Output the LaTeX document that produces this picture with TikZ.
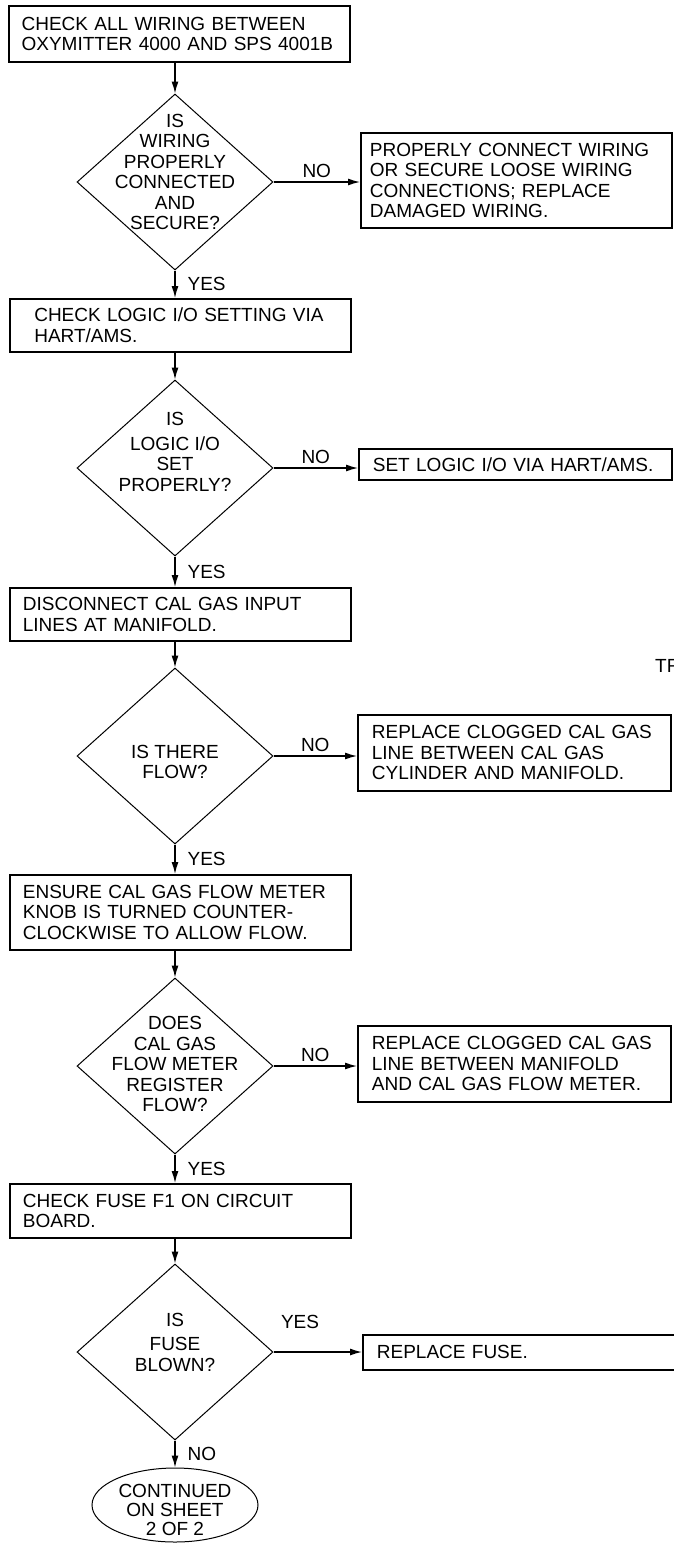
\documentclass[tikz,border=0pt]{standalone}
\usepackage{fontspec}
\setmainfont{Liberation Sans}
\usetikzlibrary{shapes.geometric, arrows.meta}

\begin{document}
\begin{tikzpicture}[x=1pt, y=-1pt, >={Latex[length=12pt, width=7pt]},
    font=\fontsize{19}{20.5}\selectfont,
    every node/.style={inner sep=0pt},
    stepbox/.style={draw, line width=1.8pt, anchor=north west, align=left, inner xsep=13pt, text width=315pt},
    sidebox/.style={draw, line width=1.8pt, anchor=north west, align=left, inner xsep=14pt, text width=285pt},
    query/.style={draw, diamond, line width=1pt, minimum width=196pt, minimum height=176pt},
    flow/.style={->, line width=1.3pt},
    answer/.style={inner sep=0pt}]
    \useasboundingbox (0,0) rectangle (673,1543);

    % Define main column
    \node[stepbox, minimum height=56pt] (wiring) at (7.7,5) {CHECK ALL WIRING BETWEEN\\OXYMITTER 4000 AND SPS 4001B};
    \node[query, label={[align=center, yshift=10pt]center:{IS\\WIRING\\PROPERLY\\CONNECTED\\AND\\SECURE?}}] (qwire) at (175,182) {};
    \node[stepbox, inner xsep=24pt, text width=293pt, minimum height=53pt] (logic) at (9.4,298) {CHECK LOGIC I/O SETTING VIA\\HART/AMS.};
    \node[query, label={[align=center, yshift=16pt]center:{IS\\[4pt]LOGIC I/O\\SET\\PROPERLY?}}] (qlogic) at (175,468) {};
    \node[stepbox, minimum height=53pt] (disc) at (9,587) {DISCONNECT CAL GAS INPUT\\LINES AT MANIFOLD.};
    \node[query, label={[align=center, yshift=-6pt]center:{IS THERE\\FLOW?}}] (qflow) at (175,756) {};
    \node[stepbox, minimum height=75pt] (knob) at (9,874) {ENSURE CAL GAS FLOW METER\\KNOB IS TURNED COUNTER-\\CLOCKWISE TO ALLOW FLOW.};
    \node[query, label={[align=center, yshift=2pt]center:{DOES\\CAL GAS\\FLOW METER\\REGISTER\\FLOW?}}] (qmeter) at (175,1066) {};
    \node[stepbox, minimum height=54pt] (fuse) at (9,1183) {CHECK FUSE F1 ON CIRCUIT\\BOARD.};
    \node[query, label={[align=center, yshift=10pt]center:{IS\\[4pt]FUSE\\BLOWN?}}] (qfuse) at (175,1352) {};
    \node[draw, ellipse, line width=1pt, minimum width=166pt, minimum height=74pt,
          label={[align=center, font=\fontsize{19}{19}\selectfont, yshift=-5pt]center:{CONTINUED\\ON SHEET\\2 OF 2}}] (sheet) at (175,1505) {};

    % Define side boxes
    \node[sidebox, inner xsep=9pt, text width=293pt, minimum height=95pt] (fixwire) at (360,132) {PROPERLY CONNECT WIRING\\OR SECURE LOOSE WIRING\\CONNECTIONS; REPLACE\\DAMAGED WIRING.};
    \node[sidebox, minimum height=31pt] (setlogic) at (358,448) {SET LOGIC I/O VIA HART/AMS.};
    \node[sidebox, minimum height=76pt] (cylinder) at (357,714) {REPLACE CLOGGED CAL GAS\\LINE BETWEEN CAL GAS\\CYLINDER AND MANIFOLD.};
    \node[sidebox, minimum height=76pt] (meterline) at (357,1025) {REPLACE CLOGGED CAL GAS\\LINE BETWEEN MANIFOLD\\AND CAL GAS FLOW METER.};
    \node[sidebox, text width=300pt, minimum height=35pt] (newfuse) at (362,1334) {REPLACE FUSE.};
    \node[anchor=west] (trunc) at (655,666) {TR};

    % Draw main flow
    \draw[flow] (wiring.south -| qwire.north) -- (qwire.north);
    \draw[flow] (qwire.south) -- node[answer, right=12pt] {YES} (logic.north -| qwire.south);
    \draw[flow] (logic.south -| qlogic.north) -- (qlogic.north);
    \draw[flow] (qlogic.south) -- node[answer, right=12pt] {YES} (disc.north -| qlogic.south);
    \draw[flow] (disc.south -| qflow.north) -- (qflow.north);
    \draw[flow] (qflow.south) -- node[answer, right=12pt] {YES} (knob.north -| qflow.south);
    \draw[flow] (knob.south -| qmeter.north) -- (qmeter.north);
    \draw[flow] (qmeter.south) -- node[answer, right=12pt] {YES} (fuse.north -| qmeter.south);
    \draw[flow] (fuse.south -| qfuse.north) -- (qfuse.north);
    \draw[flow] (qfuse.south) -- node[answer, right=12pt] {NO} (sheet.north);

    % Draw side branches
    \draw[flow] (qwire.east) -- node[answer, above=4pt] {NO} (qwire.east -| fixwire.west);
    \draw[flow] (qlogic.east) -- node[answer, above=4pt] {NO} (qlogic.east -| setlogic.west);
    \draw[flow] (qflow.east) -- node[answer, above=4pt] {NO} (qflow.east -| cylinder.west);
    \draw[flow] (qmeter.east) -- node[answer, above=4pt] {NO} (qmeter.east -| meterline.west);
    \draw[flow] (qfuse.east) -- node[answer, pos=0.3, above=23pt] {YES} (qfuse.east -| newfuse.west);
\end{tikzpicture}
\end{document}
